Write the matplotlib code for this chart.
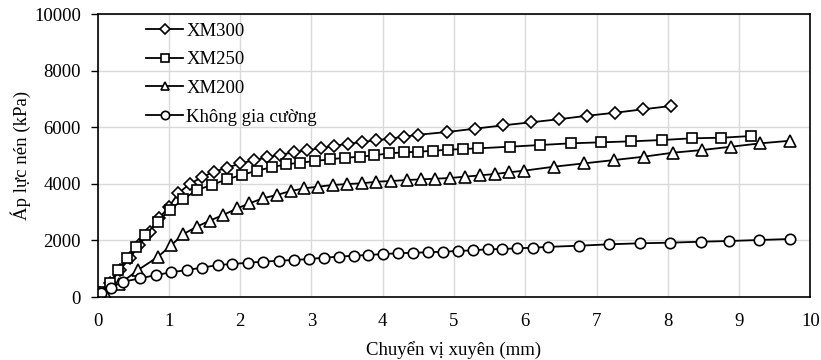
import matplotlib
matplotlib.use("Agg")
import matplotlib.pyplot as plt

plt.rcParams['font.family'] = ['Liberation Serif', 'DejaVu Serif']

## data ##
xm300_x = [0, 0.03, 0.17, 0.31, 0.45, 0.58, 0.73, 0.86, 1.0, 1.13, 1.29, 1.46, 1.63, 1.82,
           2.0, 2.19, 2.38, 2.56, 2.76, 2.94, 3.13, 3.31, 3.51, 3.71, 3.90, 4.10, 4.30, 4.50,
           4.90, 5.29, 5.69, 6.08, 6.48, 6.87, 7.26, 7.65, 8.04]
xm300_y = [0, 130, 484, 954, 1367, 1837, 2307, 2781, 3191, 3664, 3993, 4230, 4428, 4569,
           4720, 4830, 4936, 5030, 5113, 5190, 5254, 5340, 5412, 5477, 5537, 5594, 5664, 5735,
           5830, 5947, 6067, 6173, 6285, 6406, 6512, 6632, 6749]

xm250_x = [0, 0.02, 0.17, 0.29, 0.41, 0.54, 0.67, 0.84, 1.01, 1.20, 1.39, 1.60, 1.81, 2.02,
           2.23, 2.44, 2.64, 2.84, 3.05, 3.26, 3.47, 3.68, 3.88, 4.09, 4.30, 4.50, 4.71, 4.92,
           5.13, 5.34, 5.78, 6.21, 6.64, 7.06, 7.49, 7.92, 8.34, 8.75, 9.17]
xm250_y = [0, 180, 505, 954, 1389, 1777, 2191, 2661, 3074, 3452, 3781, 3958, 4159, 4311,
           4463, 4583, 4689, 4746, 4806, 4866, 4922, 4958, 5007, 5078, 5113, 5134, 5170, 5205,
           5230, 5254, 5311, 5371, 5431, 5466, 5502, 5548, 5608, 5629, 5689]

xm200_x = [0, 0.10, 0.30, 0.57, 0.84, 1.03, 1.20, 1.39, 1.57, 1.76, 1.96, 2.13, 2.32, 2.51,
           2.71, 2.90, 3.09, 3.30, 3.50, 3.71, 3.91, 4.12, 4.34, 4.54, 4.74, 4.94, 5.15, 5.37,
           5.57, 5.77, 5.98, 6.40, 6.83, 7.25, 7.66, 8.07, 8.48, 8.89, 9.30, 9.72]
xm200_y = [0, 150, 450, 960, 1410, 1825, 2220, 2484, 2696, 2898, 3134, 3311, 3488, 3604,
           3746, 3841, 3898, 3958, 3993, 4018, 4074, 4099, 4134, 4159, 4180, 4205, 4251, 4300,
           4346, 4406, 4463, 4604, 4724, 4841, 4958, 5099, 5194, 5311, 5431, 5523]

kgc_x = [0, 0.05, 0.18, 0.36, 0.60, 0.82, 1.03, 1.25, 1.46, 1.69, 1.89, 2.11, 2.32, 2.54,
         2.76, 2.97, 3.17, 3.38, 3.59, 3.80, 4.01, 4.21, 4.42, 4.63, 4.84, 5.05, 5.26, 5.47,
         5.68, 5.89, 6.11, 6.32, 6.76, 7.18, 7.61, 8.03, 8.46, 8.86, 9.28, 9.71]
kgc_y = [0, 130, 330, 541, 661, 777, 873, 954, 1035, 1131, 1166, 1212, 1247, 1283,
         1307, 1343, 1389, 1424, 1459, 1484, 1519, 1544, 1565, 1579, 1600, 1625, 1650, 1686,
         1696, 1721, 1742, 1772, 1813, 1862, 1898, 1919, 1954, 1979, 2014, 2049]

labels = ['XM300', 'XM250', 'XM200', 'Không gia cường']

## plot ##
fig = plt.figure(figsize=(8.21, 3.6), dpi=100)
ax = fig.add_axes([0.119, 0.175, 0.868, 0.786])

style = dict(color='black', lw=1.3, markerfacecolor='white', markeredgecolor='black',
             markeredgewidth=1.2)
ax.plot(xm300_x, xm300_y, marker='D', markersize=6.5, label=labels[0], **style)
ax.plot(xm250_x, xm250_y, marker='s', markersize=7, label=labels[1], **style)
ax.plot(xm200_x, xm200_y, marker='^', markersize=8, label=labels[2], **style)
ax.plot(kgc_x, kgc_y, marker='o', markersize=7.5, label=labels[3], **style)

ax.set_xlim(0, 10)
ax.set_ylim(0, 10000)
ax.set_xticks(range(0, 11))
ax.set_yticks(range(0, 10001, 2000))
ax.grid(True, color='#d9d9d9', lw=1.0)
ax.set_axisbelow(True)
for s in ax.spines.values():
    s.set_color('black')
    s.set_linewidth(1.2)
ax.tick_params(labelsize=13.5, direction='out', width=1.0)
ax.tick_params(axis='x', length=0, pad=11.5)
ax.tick_params(axis='y', length=5, pad=7)

ax.set_xlabel('Chuyển vị xuyên (mm)', fontsize=13.5, labelpad=8)
ax.set_ylabel('Áp lực nén (kPa)', fontsize=13.5, labelpad=2)

ax.legend(loc='upper left', bbox_to_anchor=(0.044, 1.03), frameon=False, fontsize=13.5,
          handlelength=2.0, handletextpad=0.15, labelspacing=0.62, markerscale=0.8)

plt.savefig('out.png', dpi=100)
